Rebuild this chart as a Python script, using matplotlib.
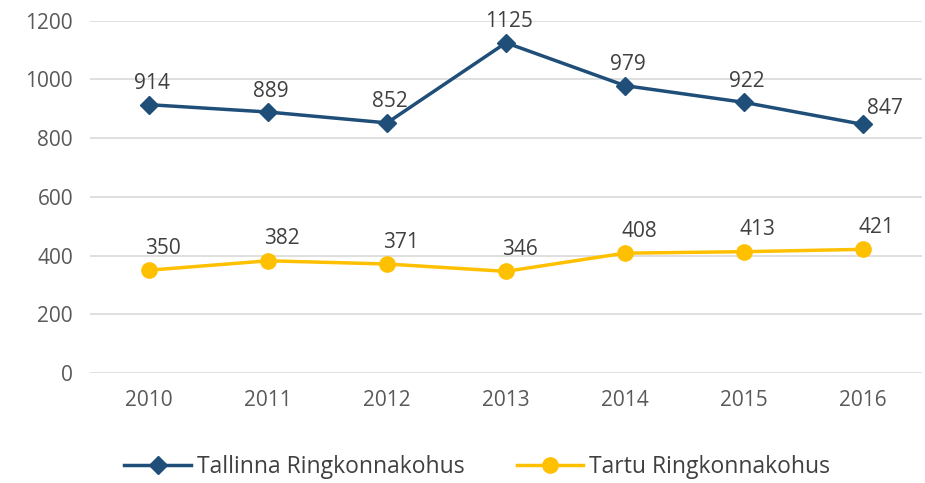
import matplotlib
matplotlib.use("Agg")
import matplotlib.pyplot as plt

years = ["2010", "2011", "2012", "2013", "2014", "2015", "2016"]
tallinn = [914, 889, 852, 1125, 979, 922, 847]
tartu = [350, 382, 371, 346, 408, 413, 421]

plt.rcParams['font.family'] = ['Open Sans', 'DejaVu Sans']

fig = plt.figure(figsize=(9.25, 4.83), dpi=100)
ax = fig.add_axes([0.097, 0.228, 0.9, 0.729])

x = range(len(years))
ax.plot(x, tallinn, color='#1F4E79', linewidth=2.5, marker='D', markersize=9.5,
        label='Tallinna Ringkonnakohus')
ax.plot(x, tartu, color='#FFC000', linewidth=2.5, marker='o', markersize=11,
        label='Tartu Ringkonnakohus')

# sildid punktide kohal
for i, v in enumerate(tallinn):
    dx, dy = (3, 21)
    if i == len(tallinn) - 1:
        dx, dy = (22, 16)
    ax.annotate(str(v), (i, v), xytext=(dx, dy), textcoords='offset pixels',
                ha='center', va='center', fontsize=15, color='#404040')
for i, v in enumerate(tartu):
    ax.annotate(str(v), (i, v), xytext=(14, 22), textcoords='offset pixels',
                ha='center', va='center', fontsize=15, color='#404040')

ax.set_xlim(-0.5, 6.5)
ax.set_ylim(0, 1200)
ax.set_yticks(range(0, 1201, 200))
ax.set_xticks(list(x))
ax.set_xticklabels(years)
ax.grid(axis='y', color='#D9D9D9', linewidth=1.2)
ax.set_axisbelow(True)
for s in ax.spines.values():
    s.set_visible(False)
ax.tick_params(length=0, labelsize=15, colors='#595959', pad=12)

fig.legend(loc='center', bbox_to_anchor=(0.516, 0.033), ncol=2, frameon=False,
           fontsize=16.5, handlelength=2.9, columnspacing=2.3, labelcolor='#404040',
           handletextpad=0.25)

fig.savefig('out.png', dpi=100)
